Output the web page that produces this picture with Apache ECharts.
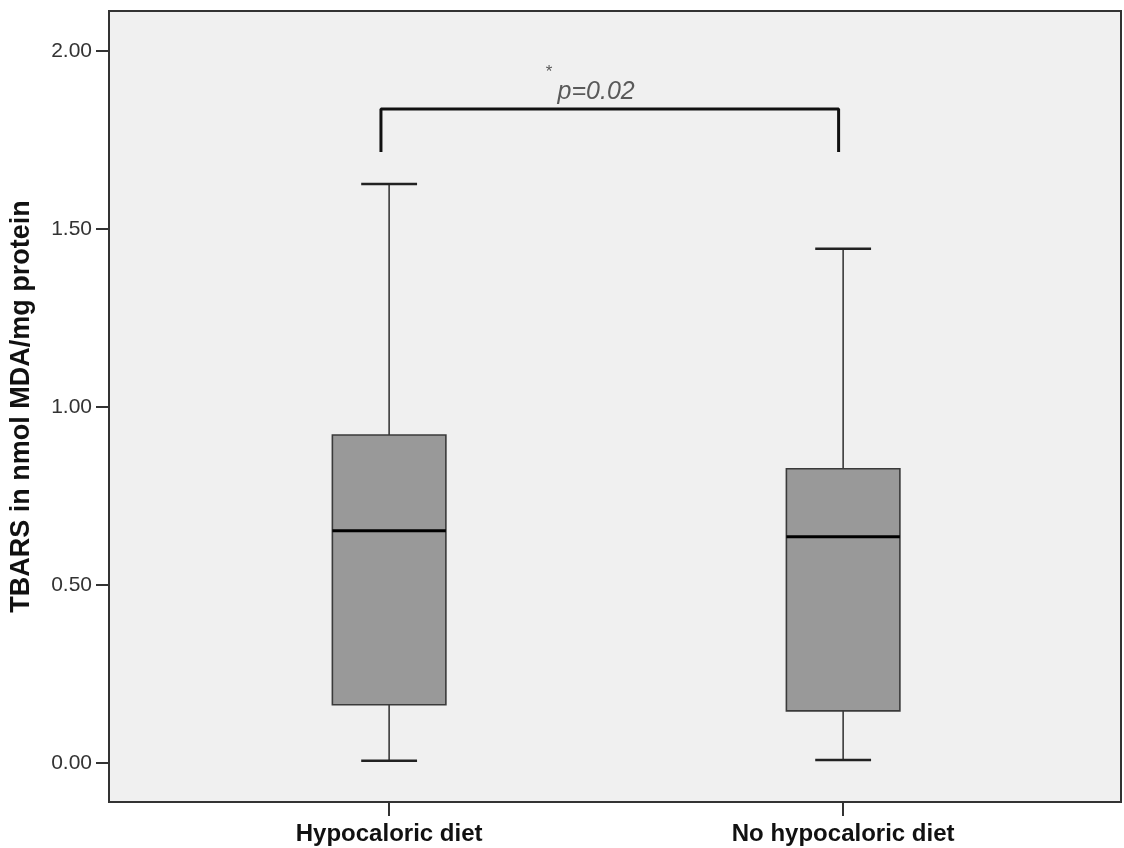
<!DOCTYPE html>
<html>
<head>
<meta charset="utf-8">
<script src="https://cdn.jsdelivr.net/npm/echarts@6/dist/echarts.min.js"></script>
<style>
  html, body { margin: 0; padding: 0; background: #fff; }
  #chart { width: 1124px; height: 848px; }
</style>
</head>
<body>
<div id="chart"></div>
<script>
// groups on the x axis
const categories = ['Hypocaloric diet', 'No hypocaloric diet']
// box statistics per group: min, Q1, median, Q3, max
const boxMin = [0.006, 0.008]
const boxQ1 = [0.163, 0.146]
const boxMedian = [0.652, 0.635]
const boxQ3 = [0.921, 0.826]
const boxMax = [1.626, 1.444]
// y ticks
const yTicks = [0, 0.5, 1, 1.5, 2]
// significance bracket (x in group units, y in data units)
const bracketX = [-0.018, -0.018, 0.99, 0.99]
const bracketY = [1.716, 1.837, 1.837, 1.716]
const pLabel = 'p=0.02'
const starLabel = '*'

const chart = echarts.init(document.getElementById('chart'))

const boxData = categories.map((c, i) => [i, boxMin[i], boxQ1[i], boxMedian[i], boxQ3[i], boxMax[i]])

const renderBox = (params, api) => {
  const x = api.value(0)
  const band = api.size([1, 0])[0]
  const half = band * 0.125
  const cap = band * 0.0615
  const pMin = api.coord([x, api.value(1)])
  const pQ1 = api.coord([x, api.value(2)])
  const pMed = api.coord([x, api.value(3)])
  const pQ3 = api.coord([x, api.value(4)])
  const pMax = api.coord([x, api.value(5)])
  const cx = pMin[0]
  const lineStyle = { stroke: '#3a3a3a', lineWidth: 1.6 }
  return {
    type: 'group',
    children: [
      { type: 'line', shape: { x1: cx, y1: pQ3[1], x2: cx, y2: pMax[1] }, style: lineStyle },
      { type: 'line', shape: { x1: cx, y1: pQ1[1], x2: cx, y2: pMin[1] }, style: lineStyle },
      { type: 'line', shape: { x1: cx - cap, y1: pMax[1], x2: cx + cap, y2: pMax[1] }, style: { stroke: '#222', lineWidth: 2.5 } },
      { type: 'line', shape: { x1: cx - cap, y1: pMin[1], x2: cx + cap, y2: pMin[1] }, style: { stroke: '#222', lineWidth: 2.5 } },
      {
        type: 'rect',
        shape: { x: cx - half, y: pQ3[1], width: half * 2, height: pQ1[1] - pQ3[1] },
        style: { fill: '#999999', stroke: '#3a3a3a', lineWidth: 1.6 }
      },
      { type: 'line', shape: { x1: cx - half, y1: pMed[1], x2: cx + half, y2: pMed[1] }, style: { stroke: '#000', lineWidth: 3 } }
    ]
  }
}

const option = {
  backgroundColor: '#fff',
  animation: false,
  grid: {
    left: 108,
    right: 3,
    top: 11,
    bottom: 46,
    show: true,
    backgroundColor: '#f0f0f0',
    borderColor: '#333',
    borderWidth: 2
  },
  xAxis: {
    type: 'value',
    min: -0.617,
    max: 1.612,
    splitLine: { show: false },
    axisLine: { show: true, onZero: false, lineStyle: { color: '#333', width: 2 } },
    axisTick: {
      show: true,
      length: 14,
      customValues: [0, 1],
      lineStyle: { color: '#333', width: 2 }
    },
    axisLabel: {
      show: true,
      customValues: [0, 1],
      formatter: (v) => categories[Math.round(v)] || '',
      margin: 20,
      color: '#111',
      fontSize: 24,
      fontWeight: 'bold',
      fontFamily: 'Liberation Sans, Arial, sans-serif'
    }
  },
  yAxis: {
    type: 'value',
    min: -0.11,
    max: 2.112,
    name: 'TBARS in nmol MDA/mg protein',
    nameLocation: 'middle',
    nameGap: 74,
    nameTextStyle: {
      color: '#111',
      fontSize: 27,
      fontWeight: 'bold',
      fontFamily: 'Liberation Sans, Arial, sans-serif'
    },
    splitLine: { show: false },
    axisLine: { show: true, onZero: false, lineStyle: { color: '#333', width: 2 } },
    axisTick: {
      show: true,
      length: 13,
      customValues: yTicks,
      lineStyle: { color: '#333', width: 2 }
    },
    axisLabel: {
      show: true,
      customValues: yTicks,
      formatter: (v) => v.toFixed(2),
      margin: 17,
      color: '#333',
      fontSize: 21,
      fontFamily: 'Liberation Sans, Arial, sans-serif'
    }
  },
  series: [
    {
      name: 'TBARS',
      type: 'custom',
      renderItem: renderBox,
      encode: { x: 0, y: [1, 2, 3, 4, 5] },
      data: boxData,
      silent: true
    },
    {
      name: 'bracket',
      type: 'line',
      data: bracketX.map((x, i) => [x, bracketY[i]]),
      symbol: 'none',
      lineStyle: { color: '#111', width: 3 },
      silent: true
    },
    {
      name: 'annotation',
      type: 'scatter',
      symbolSize: 0,
      silent: true,
      data: [
        { value: [0.371, 1.885], label: { formatter: pLabel, fontSize: 25, fontStyle: 'italic' } },
        { value: [0.345, 1.94], label: { formatter: starLabel, fontSize: 17 } }
      ],
      label: {
        show: true,
        position: 'inside',
        align: 'left',
        color: '#333',
        fontFamily: 'Liberation Sans, Arial, sans-serif'
      }
    }
  ]
}

chart.setOption(option)
</script>
</body>
</html>
